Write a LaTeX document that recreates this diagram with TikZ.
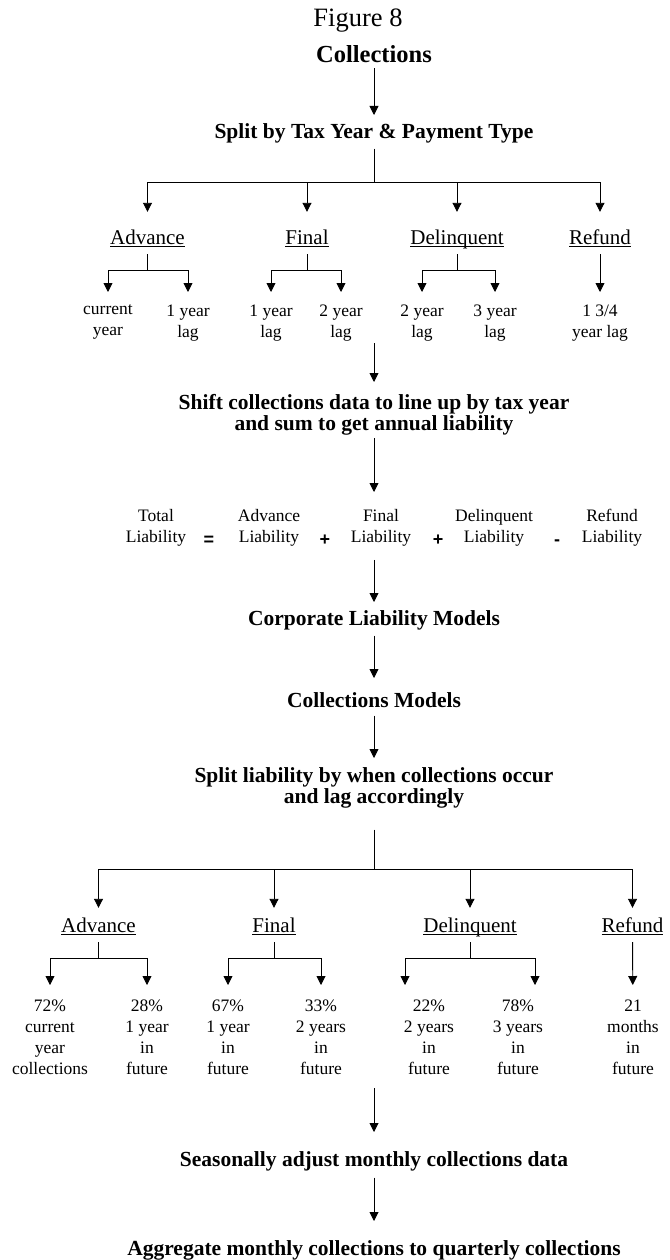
\documentclass[tikz,border=0pt]{standalone}
\usepackage{fontspec}
\setmainfont{Liberation Serif}
\newfontfamily\opfont{Liberation Sans}
\usetikzlibrary{arrows.meta}

\newcommand{\uhead}[1]{\setbox0\hbox{#1}\rlap{#1}\rule[-3pt]{\wd0}{1pt}}

\tikzstyle{figtxt}=[inner sep=0, anchor=base, font=\fontsize{26.5}{30}\selectfont]
\tikzstyle{titletxt}=[inner sep=0, anchor=base, font=\bfseries\fontsize{24.5}{28}\selectfont]
\tikzstyle{flowtxt}=[inner sep=0, anchor=north, align=center, font=\bfseries\fontsize{21.5}{21}\selectfont, execute at begin node=\strut]
\tikzstyle{headtxt}=[inner sep=0, anchor=base, text height=15pt, text depth=5pt, font=\fontsize{21}{24}\selectfont]
\tikzstyle{leaftxt}=[inner sep=0, anchor=north, align=center, font=\fontsize{17.5}{21}\selectfont, execute at begin node=\strut]
\tikzstyle{optxt}=[inner sep=0, anchor=base, font=\opfont\bfseries\fontsize{18}{21}\selectfont]
\tikzstyle{link}=[line width=0.9pt]
\tikzstyle{arr}=[line width=0.9pt, -{Triangle[length=9pt,width=9pt]}]

\begin{document}
\begin{tikzpicture}[x=1pt, y=-1pt]
    \useasboundingbox (0,0) rectangle (669,1260);

    % top of the chart
    \node [figtxt] (fig) at (358,27) {Figure 8};
    \node [titletxt] (coll) at (374,63) {Collections};
    \node [flowtxt] (split) at (374,123.3) {Split by Tax Year \& Payment Type};

    % payment types, by tax year
    \node [headtxt] (hA) at (147.5,244) {\uhead{Advance}};
    \node [headtxt] (hF) at (307,244) {\uhead{Final}};
    \node [headtxt] (hD) at (457,244) {\uhead{Delinquent}};
    \node [headtxt] (hR) at (600,244) {\uhead{Refund}};

    \node [leaftxt] (uA1) at (108,304.3) {current\\year};
    \node [leaftxt] (uA2) at (188,304.3) {1 year\\lag};
    \node [leaftxt] (uF1) at (271,304.3) {1 year\\lag};
    \node [leaftxt] (uF2) at (341,304.3) {2 year\\lag};
    \node [leaftxt] (uD1) at (422,304.3) {2 year\\lag};
    \node [leaftxt] (uD2) at (495,304.3) {3 year\\lag};
    \node [leaftxt] (uR) at (600,304.3) {1 3/4\\year lag};

    \node [flowtxt] (shift) at (374,394.3) {Shift collections data to line up by tax year\\and sum to get annual liability};

    % liability sum
    \node [leaftxt] (eqT) at (156,509.3) {Total\\Liability};
    \node [leaftxt] (eqA) at (269,509.3) {Advance\\Liability};
    \node [leaftxt] (eqF) at (381,509.3) {Final\\Liability};
    \node [leaftxt] (eqD) at (494,509.3) {Delinquent\\Liability};
    \node [leaftxt] (eqR) at (612,509.3) {Refund\\Liability};
    \node [optxt] (opEq) at (209,545) {=};
    \node [optxt] (opP1) at (325,545) {+};
    \node [optxt] (opP2) at (438,545) {+};
    \node [optxt] (opM) at (557,545) {-};

    \node [flowtxt] (corp) at (374,610.3) {Corporate Liability Models};
    \node [flowtxt] (collm) at (374,692.3) {Collections Models};
    \node [flowtxt] (splitl) at (374,767.3) {Split liability by when collections occur\\and lag accordingly};

    % payment types, by when collected
    \node [headtxt] (hA2) at (98.5,932) {\uhead{Advance}};
    \node [headtxt] (hF2) at (274,932) {\uhead{Final}};
    \node [headtxt] (hD2) at (470,932) {\uhead{Delinquent}};
    \node [headtxt] (hR2) at (632.5,932) {\uhead{Refund}};

    \node [leaftxt] (mA1) at (50,999.3) {72\%\\current\\year\\collections};
    \node [leaftxt] (mA2) at (147,999.3) {28\%\\1 year\\in\\future};
    \node [leaftxt] (mF1) at (228,999.3) {67\%\\1 year\\in\\future};
    \node [leaftxt] (mF2) at (321,999.3) {33\%\\2 years\\in\\future};
    \node [leaftxt] (mD1) at (429,999.3) {22\%\\2 years\\in\\future};
    \node [leaftxt] (mD2) at (518,999.3) {78\%\\3 years\\in\\future};
    \node [leaftxt] (mR) at (633,999.3) {21\\months\\in\\future};

    \node [flowtxt] (seas) at (374,1151.3) {Seasonally adjust monthly collections data};
    \node [flowtxt] (aggr) at (374,1240.3) {Aggregate monthly collections to quarterly collections};

    % junctions
    \coordinate (j1) at (374,182);
    \coordinate (jA) at (147.5,270);
    \coordinate (jF) at (307,270);
    \coordinate (jD) at (457,270);
    \coordinate (upgo) at (374,343);
    \coordinate (j2) at (374,869);
    \coordinate (jA2) at (98.5,958);
    \coordinate (jF2) at (274,958);
    \coordinate (jD2) at (470,958);
    \coordinate (lowgo) at (374,1088);

    % upper tree
    \draw[arr, shorten <=5pt, shorten >=8.3pt] (coll) -- (split);
    \draw[link, shorten <=3.7pt] (split) -- (j1);
    \foreach \h in {hA,hF,hD,hR}
        \draw[arr, shorten >=17pt] (j1) -| (\h);
    \draw[link, shorten <=5pt] (hA) -- (jA);
    \draw[link, shorten <=5pt] (hF) -- (jF);
    \draw[link, shorten <=5pt] (hD) -- (jD);
    \draw[arr, shorten >=12.3pt] (jA) -| (uA1);
    \draw[arr, shorten >=12.3pt] (jA) -| (uA2);
    \draw[arr, shorten >=12.3pt] (jF) -| (uF1);
    \draw[arr, shorten >=12.3pt] (jF) -| (uF2);
    \draw[arr, shorten >=12.3pt] (jD) -| (uD1);
    \draw[arr, shorten >=12.3pt] (jD) -| (uD2);
    \draw[arr, shorten <=5pt, shorten >=12.3pt] (hR) -- (uR);

    % middle chain
    \draw[arr, shorten >=12.3pt] (upgo) -- (shift);
    \draw[arr, shorten <=1pt, shorten >=17.3pt] (shift) -- (shift |- eqF.north);
    \draw[arr, shorten <=10.7pt, shorten >=8.3pt] (corp |- eqF.south) -- (corp);
    \draw[arr, shorten <=3.7pt, shorten >=14.3pt] (corp) -- (collm);
    \draw[arr, shorten <=1.7pt, shorten >=9.3pt] (collm) -- (splitl);
    \draw[link, shorten <=19.7pt] (splitl) -- (j2);

    % lower tree
    \foreach \h in {hA2,hF2,hD2,hR2}
        \draw[arr, shorten >=9pt] (j2) -| (\h);
    \draw[link, shorten <=5pt] (hA2) -- (jA2);
    \draw[link, shorten <=5pt] (hF2) -- (jF2);
    \draw[link, shorten <=5pt] (hD2) -- (jD2);
    \draw[arr, shorten >=14.3pt] (jA2) -| (mA1);
    \draw[arr, shorten >=14.3pt] (jA2) -| (mA2);
    \draw[arr, shorten >=14.3pt] (jF2) -| (mF1);
    \draw[arr, shorten >=14.3pt] (jF2) -| (mF2);
    \draw[arr, shorten >=14.3pt] (jD2) -| ([xshift=-24pt]mD1.north);
    \draw[arr, shorten >=14.3pt] (jD2) -| ([xshift=17pt]mD2.north);
    \draw[arr, shorten <=5pt, shorten >=14.3pt] (hR2) -- (mR);

    % bottom chain
    \draw[arr, shorten >=19.3pt] (lowgo) -- (seas);
    \draw[arr, shorten <=4.7pt, shorten >=19.3pt] (seas) -- (aggr);
\end{tikzpicture}
\end{document}
